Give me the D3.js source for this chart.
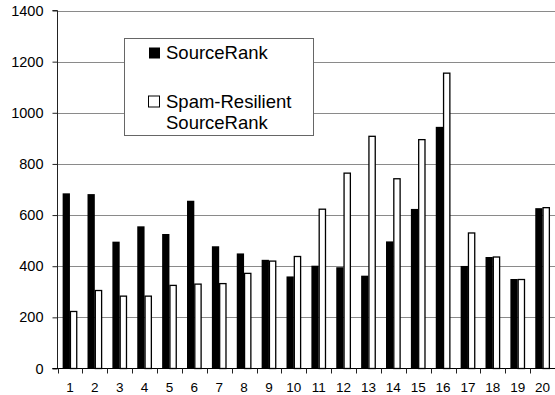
<!DOCTYPE html>
<html>
<head>
<meta charset="utf-8">
<script src="https://cdn.jsdelivr.net/npm/d3@7"></script>
<style>
  html, body { margin: 0; padding: 0; background: #fff; }
  svg { display: block; font-family: "Liberation Sans", Arial, sans-serif; }
</style>
</head>
<body>
<svg id="chart" width="555" height="395"></svg>
<script>
// Source indices 1..20
const categories = d3.range(1, 21).map(String);
const seriesNames = ["SourceRank", "Spam-Resilient SourceRank"];
const sourceRank = [685, 682, 496, 556, 526, 656, 478, 450, 425, 360,
                    402, 396, 363, 497, 624, 945, 401, 436, 350, 627];
const spamResilient = [223, 305, 283, 283, 325, 330, 332, 372, 420, 438,
                       623, 764, 908, 742, 895, 1155, 530, 436, 348, 629];
const yTicks = [0, 200, 400, 600, 800, 1000, 1200, 1400];

const svg = d3.select("#chart");
const plotLeft = 57.5, plotRight = 555, plotTop = 10.5, plotBottom = 368.5;

const x = d3.scaleBand().domain(categories).range([plotLeft, plotRight]).padding(0);
const y = d3.scaleLinear().domain([0, 1400]).range([plotBottom, plotTop]);
const groupW = 14.6;
const xs = d3.scaleBand().domain(seriesNames).range([-groupW / 2, groupW / 2]).padding(0);

// horizontal gridlines
svg.append("g").selectAll("line").data(yTicks.filter(d => d > 0)).join("line")
  .attr("x1", plotLeft).attr("x2", plotRight)
  .attr("y1", d => Math.round(y(d)) + 0.5).attr("y2", d => Math.round(y(d)) + 0.5)
  .attr("stroke", "#8a8a8a").attr("stroke-width", 1);

// bars
const rows = categories.map((c, i) => ({ c, vals: [sourceRank[i], spamResilient[i]] }));
const groups = svg.append("g").selectAll("g").data(rows).join("g")
  .attr("transform", d => `translate(${x(d.c) + x.bandwidth() / 2},0)`);
groups.selectAll("rect").data(d => d.vals.map((v, k) => ({ v, s: seriesNames[k], k }))).join("rect")
  .attr("x", d => xs(d.s) + (d.k === 1 ? 0.5 : 0))
  .attr("width", d => xs.bandwidth() - (d.k === 1 ? 1 : 0))
  .attr("y", d => y(d.v))
  .attr("height", d => plotBottom - y(d.v))
  .attr("fill", d => d.k === 0 ? "#000" : "#fff")
  .attr("stroke", d => d.k === 0 ? "none" : "#000")
  .attr("stroke-width", 1.3);

// y axis
const yAxis = d3.axisLeft(y).tickValues(yTicks).tickSize(5).tickPadding(9).tickFormat(d3.format("d"));
const gy = svg.append("g").attr("transform", `translate(${plotLeft},0)`).call(yAxis);
gy.select(".domain").attr("stroke", "#222").attr("d", `M-5,${plotTop}H0V${plotBottom}H-5`);
gy.selectAll(".tick line").attr("stroke", "#222");
gy.selectAll("text").attr("font-size", 14.5).attr("fill", "#000").attr("font-family", "Liberation Sans, Arial, sans-serif");

// x axis with tick marks at category boundaries
svg.append("line").attr("x1", plotLeft - 5).attr("x2", plotRight).attr("y1", plotBottom).attr("y2", plotBottom).attr("stroke", "#000");
svg.append("g").selectAll("line").data(categories).join("line")
  .attr("x1", d => Math.round(x(d)) + 0.5).attr("x2", d => Math.round(x(d)) + 0.5)
  .attr("y1", plotBottom).attr("y2", plotBottom + 5).attr("stroke", "#222");
svg.append("g").selectAll("text").data(categories).join("text")
  .attr("x", d => x(d) + x.bandwidth() / 2)
  .attr("y", 391.5)
  .attr("text-anchor", "middle")
  .attr("font-size", 13.5)
  .text(d => d);

// legend
const lg = svg.append("g");
lg.append("rect").attr("x", 124.5).attr("y", 38.5).attr("width", 189).attr("height", 97)
  .attr("fill", "#fff").attr("stroke", "#666");
lg.append("rect").attr("x", 149).attr("y", 47.5).attr("width", 11).attr("height", 11).attr("fill", "#000");
lg.append("text").attr("x", 166).attr("y", 59.3).attr("font-size", 18.5).text(seriesNames[0]);
lg.append("rect").attr("x", 148.5).attr("y", 96).attr("width", 11).attr("height", 11)
  .attr("fill", "#fff").attr("stroke", "#000");
lg.append("text").attr("x", 166).attr("y", 107.5).attr("font-size", 18.5).text("Spam-Resilient");
lg.append("text").attr("x", 166).attr("y", 128.5).attr("font-size", 18.5).text("SourceRank");
</script>
</body>
</html>
